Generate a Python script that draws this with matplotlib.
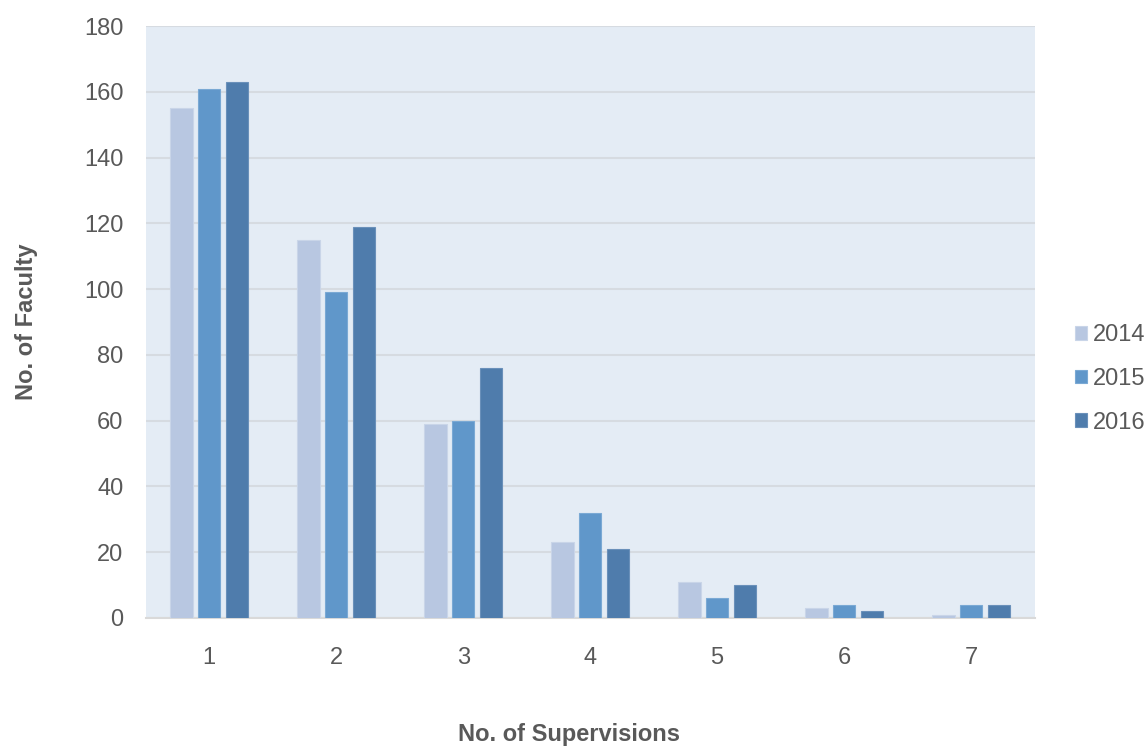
import numpy as np
import matplotlib.pyplot as plt

supervisions = ['1', '2', '3', '4', '5', '6', '7']
years = ['2014', '2015', '2016']
faculty_2014 = [155, 115, 59, 23, 11, 3, 1]
faculty_2015 = [161, 99, 60, 32, 6, 4, 4]
faculty_2016 = [163, 119, 76, 21, 10, 2, 4]

colors = ['#b8c7e1', '#6097ca', '#4f7cac']
edges = ['#c9d5e8', '#7aa9d4', '#6a90ba']
text_color = '#595959'

plt.rcParams['font.family'] = ['Liberation Sans', 'DejaVu Sans']

fig = plt.figure(figsize=(11.47, 7.47), dpi=100)
ax = fig.add_axes([0.127, 0.1727, 0.775, 0.7923])
ax.set_facecolor('#e4ecf5')

x = np.arange(1, len(supervisions) + 1)
step = 0.217
width = 0.175
series = [faculty_2014, faculty_2015, faculty_2016]
for i, vals in enumerate(series):
    ax.bar(x + (i - 1) * step, vals, width, color=colors[i], edgecolor=edges[i],
           linewidth=0.8, label=years[i], zorder=3)

ax.set_xlim(0.5, 7.5)
ax.set_ylim(0, 180)
ax.set_yticks(range(0, 181, 20))
ax.set_xticks(x)
ax.set_xticklabels(supervisions)
ax.yaxis.grid(True, color='#d6dbe1', linewidth=1.5, zorder=0)
ax.set_axisbelow(True)

for s in ['top', 'right', 'left']:
    ax.spines[s].set_visible(False)
ax.spines['bottom'].set_color('#d9d9d9')
ax.spines['bottom'].set_linewidth(1.5)
ax.tick_params(axis='both', length=0, labelsize=17, colors=text_color)
ax.tick_params(axis='x', pad=21)
ax.tick_params(axis='y', pad=16)

ax.set_xlabel('No. of Supervisions', fontsize=17, fontweight='bold', color=text_color)
ax.xaxis.set_label_coords(0.476, -0.177)
ax.set_ylabel('No. of Faculty', fontsize=17, fontweight='bold', color=text_color, labelpad=33)

leg = ax.legend(loc='center left', bbox_to_anchor=(1.035, 0.404), frameon=False,
                fontsize=17, handlelength=0.5, handleheight=0.5, handletextpad=0.25,
                labelspacing=0.92, borderaxespad=0.0)
for t in leg.get_texts():
    t.set_color(text_color)

fig.savefig('out.png', dpi=100)
